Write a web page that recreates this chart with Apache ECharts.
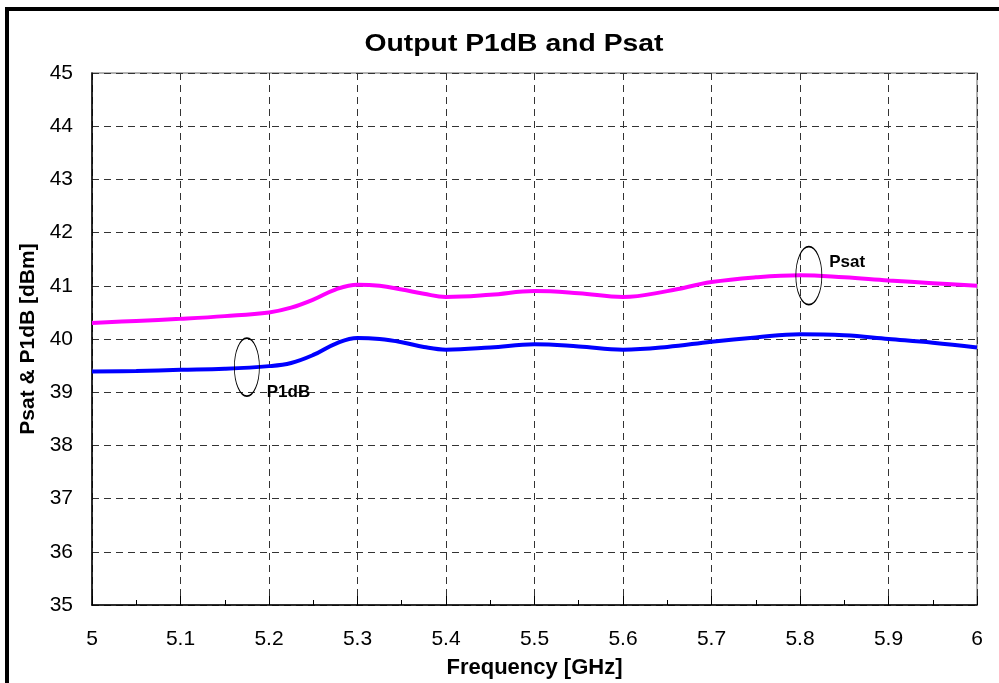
<!DOCTYPE html>
<html>
<head>
<meta charset="utf-8">
<script src="https://cdn.jsdelivr.net/npm/echarts@6/dist/echarts.min.js"></script>
<style>html,body{margin:0;padding:0;background:#fff;}#c{width:999px;height:683px;}</style>
</head>
<body>
<div id="c"></div>
<script>
const freq = [5.0,5.05,5.1,5.15,5.2,5.225,5.25,5.275,5.3,5.325,5.35,5.375,5.4,5.45,5.5,5.55,5.6,5.65,5.7,5.75,5.8,5.85,5.9,5.95,6.0];
const psat = [40.3,40.34,40.38,40.43,40.5,40.59,40.74,40.93,41.02,41.0,40.93,40.85,40.79,40.83,40.9,40.86,40.79,40.9,41.07,41.16,41.2,41.16,41.1,41.05,41.0];
const p1db = [39.39,39.4,39.42,39.44,39.49,39.55,39.7,39.91,40.02,40.0,39.94,39.85,39.8,39.84,39.9,39.86,39.8,39.85,39.95,40.03,40.09,40.07,40.0,39.93,39.84];
const yTicks = [35,36,37,38,39,40,41,42,43,44,45];
const xTicks = [5,5.1,5.2,5.3,5.4,5.5,5.6,5.7,5.8,5.9,6];
const annP1db = [5.175, 39.47];
const annPsat = [5.81, 41.19];

const font = '"Liberation Sans", Arial, sans-serif';
const chart = echarts.init(document.getElementById('c'), null, {renderer:'canvas'});
chart.setOption({
  animation:false,
  backgroundColor:'#fff',
  graphic:[
    {type:'rect', shape:{x:7, y:9, width:1000, height:700}, style:{fill:'none', stroke:'#000', lineWidth:4}, silent:true},
    {type:'text', x:514, y:44, scaleX:1.18, silent:true,
      style:{text:'Output P1dB and Psat', fontFamily:font, fontSize:24, fontWeight:'bold', fill:'#000', align:'center', verticalAlign:'middle'}}
  ],
  grid:{left:92, top:73, right:22, bottom:78, show:true, borderColor:'#999', borderWidth:1.5, outerBoundsMode:'none', containLabel:false},
  xAxis:{type:'value', min:5, max:6, interval:0.1,
    name:'Frequency [GHz]', nameLocation:'middle', nameGap:52,
    nameTextStyle:{fontFamily:font, fontSize:22, fontWeight:'bold', color:'#000'},
    axisLine:{show:true, onZero:false, lineStyle:{color:'#000', width:1.5}},
    axisTick:{show:true, inside:true, length:9, lineStyle:{color:'#000'}},
    minorTick:{show:true, splitNumber:2, length:5, lineStyle:{color:'#000'}},
    axisLabel:{fontFamily:font, fontSize:21, color:'#000', margin:24,
      formatter:v=>{const t=xTicks.find(x=>Math.abs(x-v)<1e-6); return t===undefined?'':String(t);}},
    splitLine:{show:true, lineStyle:{color:'#333', type:[7,5], width:1}}
  },
  yAxis:{type:'value', min:35, max:45, interval:1,
    name:'Psat & P1dB [dBm]', nameLocation:'middle', nameGap:52,
    nameTextStyle:{fontFamily:font, fontSize:21, fontWeight:'bold', color:'#000'},
    axisLine:{show:true, lineStyle:{color:'#000', width:1.5}},
    axisTick:{show:false},
    axisLabel:{fontFamily:font, fontSize:21, color:'#000', margin:19,
      formatter:v=>{const t=yTicks.find(x=>Math.abs(x-v)<1e-6); return t===undefined?'':String(t);}},
    splitLine:{show:true, lineStyle:{color:'#333', type:[7,5], width:1}}
  },
  series:[
    {name:'Psat', type:'line', smooth:0.4, symbol:'none', data:freq.map((f,i)=>[f,psat[i]]),
      lineStyle:{color:'#ff00ff', width:4}, z:3,
      markPoint:{symbol:'circle', symbolSize:[26,58], silent:true,
        itemStyle:{color:'rgba(0,0,0,0)', borderColor:'#000', borderWidth:1.2},
        label:{show:true, formatter:'Psat', position:'right', offset:[2,-13], fontFamily:font, fontSize:17, fontWeight:'bold', color:'#000'},
        data:[{coord:annPsat}]}},
    {name:'P1dB', type:'line', smooth:0.4, symbol:'none', data:freq.map((f,i)=>[f,p1db[i]]),
      lineStyle:{color:'#0000ff', width:4}, z:3,
      markPoint:{symbol:'circle', symbolSize:[25,58], silent:true,
        itemStyle:{color:'rgba(0,0,0,0)', borderColor:'#000', borderWidth:1.2},
        label:{show:true, formatter:'P1dB', position:'right', offset:[2,25], fontFamily:font, fontSize:17, fontWeight:'bold', color:'#000'},
        data:[{coord:annP1db}]}}
  ]
});
</script>
</body>
</html>
